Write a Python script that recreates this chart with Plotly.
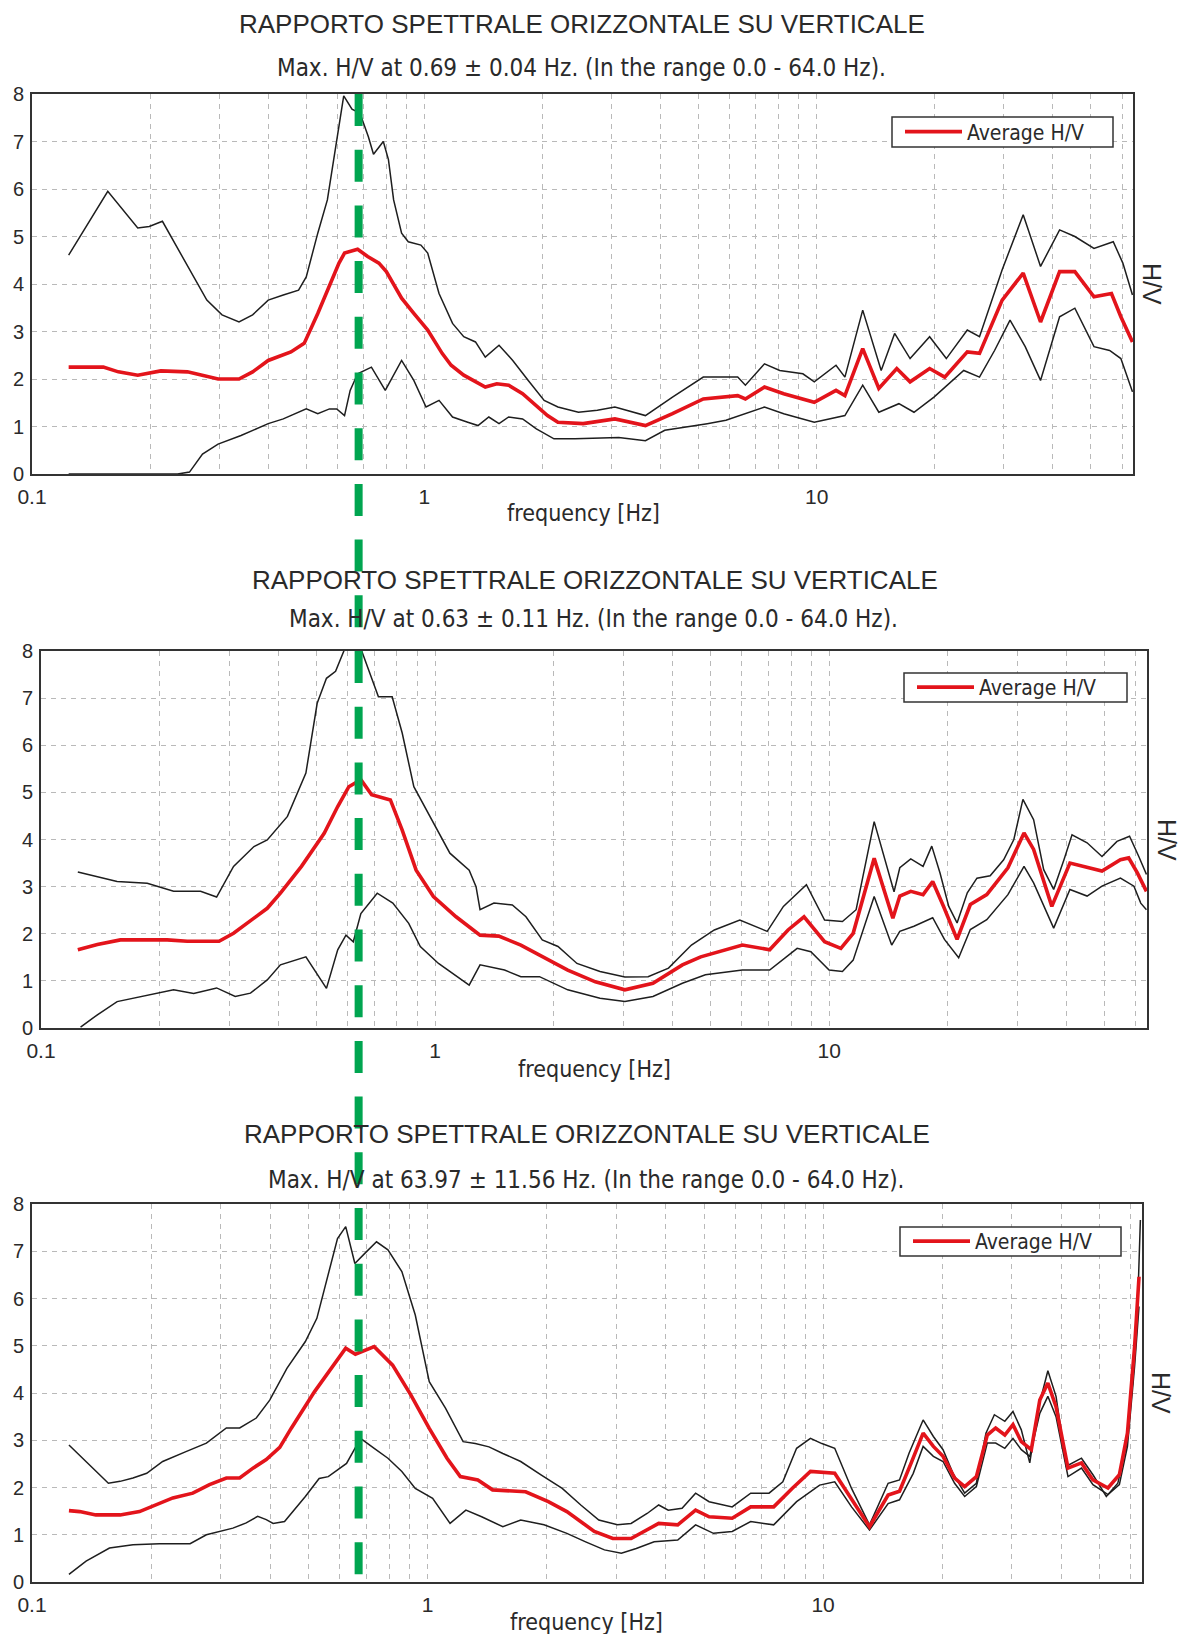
import math
import plotly.graph_objects as go

W, H = 1181, 1634

# ---------------- data ----------------
TITLE = "RAPPORTO SPETTRALE ORIZZONTALE SU VERTICALE"
PEAK_F = [0.69, 0.63, 63.97]
PEAK_ERR = [0.04, 0.11, 11.56]
RANGE_LO, RANGE_HI = 0.0, 64.0
F_MARK = 0.68  # frequency of the green dashed marker (panel-1 axis)

# Panel 1
P1_AVG_F = [0.124, 0.152, 0.166, 0.186, 0.213, 0.249, 0.298, 0.337, 0.365, 0.400, 0.457, 0.494,
            0.535, 0.573, 0.606, 0.626, 0.676, 0.717, 0.766, 0.80, 0.875, 0.94, 1.02, 1.11, 1.17,
            1.26, 1.38, 1.43, 1.53, 1.64, 1.78, 1.93, 2.06, 2.19, 2.54, 3.06, 3.66, 4.29, 5.14,
            6.29, 6.58, 7.36, 8.24, 9.86, 11.2, 11.8, 13.1, 14.4, 16.0, 17.3, 19.4, 21.2, 24.2,
            26.0, 29.7, 33.6, 37.2, 41.6, 45.5, 50.9, 56.4, 59.6, 63.8]
P1_AVG_V = [2.25, 2.25, 2.15, 2.08, 2.17, 2.15, 2.0, 2.0, 2.15, 2.39, 2.57, 2.75,
            3.38, 3.94, 4.44, 4.65, 4.73, 4.58, 4.44, 4.26, 3.7, 3.38, 3.03, 2.54, 2.29,
            2.08, 1.9, 1.83, 1.9, 1.87, 1.69, 1.44, 1.23, 1.09, 1.06, 1.16, 1.02, 1.27, 1.58,
            1.65, 1.58, 1.83, 1.69, 1.51, 1.76, 1.65, 2.64, 1.8, 2.22, 1.94, 2.22, 2.04, 2.57,
            2.54, 3.66, 4.23, 3.2, 4.26, 4.26, 3.73, 3.8, 3.31, 2.78]
P1_UP_F = [0.124, 0.156, 0.186, 0.199, 0.215, 0.255, 0.279, 0.305, 0.337, 0.365, 0.400, 0.437,
           0.478, 0.50, 0.535, 0.566, 0.598, 0.623, 0.654, 0.685, 0.72, 0.742, 0.786, 0.81,
           0.835, 0.875, 0.91, 0.98, 1.02, 1.09, 1.18, 1.26, 1.35, 1.43, 1.55, 1.68, 1.84,
           2.02, 2.19, 2.47, 2.76, 3.06, 3.66, 4.29, 5.14, 6.29, 6.58, 7.36, 8.05, 9.22, 9.86,
           11.2, 11.8, 13.1, 14.6, 15.8, 17.3, 19.4, 21.4, 24.2, 26.0, 29.7, 33.6, 37.2, 41.6,
           45.5, 50.9, 57.0, 60.3, 63.8]
P1_UP_V = [4.61, 5.95, 5.18, 5.21, 5.32, 4.23, 3.66, 3.35, 3.2, 3.35, 3.66, 3.77,
           3.87, 4.15, 5.07, 5.77, 7.04, 7.96, 7.68, 7.6, 7.1, 6.73, 7.0, 6.62,
           5.77, 5.07, 4.89, 4.82, 4.65, 3.8, 3.17, 2.89, 2.78, 2.46, 2.71, 2.39, 1.97,
           1.55, 1.41, 1.30, 1.34, 1.41, 1.23, 1.62, 2.04, 2.04, 1.87, 2.32, 2.18, 2.11, 1.94,
           2.29, 2.04, 3.45, 2.18, 2.96, 2.43, 2.89, 2.43, 3.03, 2.89, 4.3, 5.46, 4.37, 5.14,
           5.0, 4.75, 4.89, 4.44, 3.77]
P1_LO_F = [0.124, 0.235, 0.252, 0.272, 0.298, 0.341, 0.400, 0.437, 0.500, 0.535, 0.573, 0.598,
           0.626, 0.647, 0.676, 0.733, 0.795, 0.875, 0.94, 1.01, 1.09, 1.18, 1.29, 1.37, 1.46,
           1.55, 1.64, 1.78, 1.93, 2.14, 2.42, 3.13, 3.66, 4.1, 5.26, 5.87, 7.36, 8.24, 9.86,
           11.8, 13.1, 14.4, 16.2, 17.7, 19.9, 23.7, 26.0, 28.4, 31.1, 34.0, 37.2, 41.6, 45.5,
           50.9, 55.8, 59.6, 63.8]
P1_LO_V = [0.0, 0.0, 0.04, 0.42, 0.63, 0.81, 1.06, 1.16, 1.37, 1.27, 1.37, 1.37,
           1.23, 1.76, 2.11, 2.25, 1.76, 2.39, 1.97, 1.41, 1.55, 1.2, 1.09, 1.02, 1.2,
           1.06, 1.2, 1.16, 0.95, 0.74, 0.74, 0.77, 0.70, 0.92, 1.06, 1.13, 1.41, 1.27, 1.09,
           1.23, 1.87, 1.30, 1.48, 1.30, 1.62, 2.18, 2.04, 2.6, 3.24, 2.68, 1.97, 3.31, 3.49,
           2.68, 2.6, 2.43, 1.73]

# Panel 2
P2_AVG_F = [0.124, 0.139, 0.159, 0.209, 0.235, 0.283, 0.308, 0.347, 0.375, 0.405, 0.458, 0.523,
            0.566, 0.604, 0.648, 0.690, 0.770, 0.825, 0.895, 0.99, 1.13, 1.30, 1.45, 1.65, 1.84,
            2.17, 2.55, 3.03, 3.57, 4.24, 4.72, 6.02, 7.06, 7.86, 8.63, 9.73, 10.7, 11.5, 13.0,
            14.5, 15.1, 16.1, 17.3, 18.3, 19.5, 21.1, 22.8, 25.1, 28.4, 31.2, 33.0, 36.7, 40.8,
            45.1, 49.2, 54.8, 57.5, 60.5, 63.8]
P2_AVG_V = [1.66, 1.77, 1.87, 1.87, 1.84, 1.84, 2.01, 2.33, 2.54, 2.86, 3.43, 4.13,
            4.70, 5.12, 5.27, 4.95, 4.84, 4.2, 3.35, 2.79, 2.36, 1.97, 1.95, 1.76, 1.55,
            1.23, 0.98, 0.81, 0.95, 1.34, 1.51, 1.76, 1.66, 2.08, 2.36, 1.83, 1.69, 2.01, 3.6,
            2.33, 2.80, 2.90, 2.83, 3.11, 2.58, 1.88, 2.62, 2.83, 3.40, 4.14, 3.79, 2.58, 3.50,
            3.40, 3.33, 3.57, 3.61, 3.29, 2.90]
P2_UP_F = [0.124, 0.156, 0.186, 0.217, 0.254, 0.279, 0.308, 0.347, 0.375, 0.405, 0.422, 0.470,
           0.502, 0.530, 0.559, 0.590, 0.620, 0.648, 0.684, 0.718, 0.778, 0.825, 0.883, 0.969,
           1.09, 1.22, 1.27, 1.30, 1.41, 1.57, 1.70, 1.87, 2.05, 2.29, 2.62, 3.03, 3.47, 3.91,
           4.47, 5.11, 5.93, 6.96, 7.65, 8.75, 9.73, 10.8, 11.7, 13.0, 14.6, 15.1, 16.1, 17.3,
           18.2, 19.1, 20.1, 21.1, 22.4, 23.7, 25.6, 27.7, 29.4, 31.0, 33.0, 35.0, 37.1, 39.4,
           41.3, 45.1, 49.2, 53.7, 57.8, 61.0, 63.8]
P2_UP_V = [3.31, 3.11, 3.07, 2.9, 2.9, 2.78, 3.43, 3.85, 3.99, 4.31, 4.49, 5.41,
           6.89, 7.42, 7.57, 8.05, 8.4, 8.05, 7.53, 7.03, 7.03, 6.26, 5.12, 4.49,
           3.71, 3.35, 3.0, 2.51, 2.65, 2.61, 2.36, 1.87, 1.73, 1.37, 1.20, 1.08, 1.09, 1.27,
           1.76, 2.08, 2.29, 2.05, 2.58, 3.04, 2.29, 2.26, 2.51, 4.38, 2.89, 3.40, 3.59, 3.43,
           3.86, 3.29, 2.58, 2.23, 2.87, 3.18, 3.23, 3.57, 4.0, 4.85, 4.42, 3.36, 2.94, 3.57,
           4.1, 3.93, 3.64, 3.96, 4.07, 3.64, 3.26]
P2_LO_F = [0.126, 0.139, 0.156, 0.179, 0.217, 0.244, 0.279, 0.311, 0.340, 0.375, 0.405, 0.470,
           0.530, 0.566, 0.594, 0.620, 0.648, 0.713, 0.781, 0.857, 0.917, 1.02, 1.22, 1.30,
           1.50, 1.65, 1.84, 2.17, 2.62, 3.03, 3.57, 4.24, 4.85, 6.02, 7.06, 8.29, 8.98, 9.99,
           10.8, 11.5, 13.0, 14.4, 15.1, 16.4, 18.3, 19.6, 21.3, 22.8, 25.1, 28.4, 31.2, 33.0,
           37.1, 40.8, 45.1, 49.2, 54.8, 59.3, 61.7, 63.8]
P2_LO_V = [0.02, 0.28, 0.56, 0.67, 0.81, 0.73, 0.85, 0.67, 0.74, 1.02, 1.34, 1.51,
           0.84, 1.66, 1.97, 1.83, 2.43, 2.86, 2.65, 2.22, 1.73, 1.37, 0.91, 1.34,
           1.23, 1.09, 1.09, 0.81, 0.63, 0.56, 0.67, 0.95, 1.13, 1.23, 1.23, 1.69, 1.62, 1.23,
           1.2, 1.44, 2.79, 1.76, 2.05, 2.16, 2.34, 1.88, 1.49, 2.09, 2.30, 2.83, 3.43, 3.08,
           2.12, 2.94, 2.80, 3.01, 3.18, 3.01, 2.65, 2.51]

# Panel 3
P3_AVG_F = [0.124, 0.132, 0.145, 0.167, 0.187, 0.206, 0.227, 0.255, 0.281, 0.310, 0.335, 0.362,
            0.391, 0.423, 0.452, 0.518, 0.578, 0.621, 0.657, 0.733, 0.816, 0.907, 1.01, 1.12,
            1.21, 1.34, 1.46, 1.77, 2.02, 2.25, 2.64, 2.94, 3.27, 3.63, 3.84, 4.29, 4.76, 5.15,
            5.89, 6.56, 7.50, 8.35, 9.29, 10.7, 11.8, 13.1, 14.6, 15.6, 16.7, 17.9, 19.0, 20.1,
            21.5, 22.8, 24.4, 26.0, 27.3, 28.8, 30.2, 31.7, 33.6, 35.3, 37.0, 38.8, 41.6, 45.0,
            48.1, 52.5, 56.1, 58.8, 61.3, 62.9]
P3_AVG_V = [1.51, 1.49, 1.42, 1.42, 1.49, 1.63, 1.78, 1.88, 2.06, 2.20, 2.20, 2.41,
            2.59, 2.85, 3.25, 4.03, 4.59, 4.95, 4.82, 4.98, 4.59, 3.96, 3.25, 2.62,
            2.23, 2.16, 1.95, 1.91, 1.70, 1.49, 1.07, 0.92, 0.92, 1.14, 1.24, 1.21, 1.52, 1.38,
            1.35, 1.59, 1.59, 1.98, 2.34, 2.30, 1.74, 1.17, 1.84, 1.92, 2.52, 3.15, 2.87, 2.66,
            2.20, 2.02, 2.23, 3.11, 3.26, 3.11, 3.33, 2.97, 2.80, 3.85, 4.21, 3.71, 2.41, 2.52,
            2.16, 1.99, 2.27, 3.15, 4.98, 6.46]
P3_UP_F = [0.124, 0.156, 0.167, 0.180, 0.195, 0.214, 0.245, 0.276, 0.310, 0.335, 0.369, 0.399,
           0.441, 0.491, 0.525, 0.561, 0.592, 0.621, 0.655, 0.695, 0.743, 0.794, 0.861, 0.931,
           1.01, 1.11, 1.23, 1.32, 1.43, 1.55, 1.72, 1.94, 2.19, 2.44, 2.71, 3.02, 3.27, 3.59,
           3.84, 4.06, 4.40, 4.76, 5.15, 5.89, 6.56, 7.30, 7.91, 8.57, 9.29, 9.93, 10.7, 11.8,
           13.1, 14.6, 15.6, 16.5, 17.9, 19.0, 20.1, 21.3, 22.8, 24.4, 25.8, 27.1, 28.8, 30.2,
           31.7, 33.3, 34.9, 37.0, 38.8, 41.2, 45.0, 48.1, 52.0, 55.6, 58.4, 60.7, 62.5, 63.4]
P3_UP_V = [2.90, 2.09, 2.13, 2.20, 2.30, 2.55, 2.76, 2.94, 3.26, 3.26, 3.47, 3.85,
           4.52, 5.09, 5.58, 6.50, 7.27, 7.52, 6.74, 6.96, 7.20, 7.03, 6.57, 5.65,
           4.24, 3.68, 2.97, 2.93, 2.86, 2.72, 2.55, 2.26, 1.98, 1.63, 1.31, 1.21, 1.24, 1.45,
           1.63, 1.52, 1.56, 1.88, 1.70, 1.59, 1.88, 1.88, 2.12, 2.83, 3.04, 2.93, 2.83, 1.98,
           1.21, 2.09, 2.16, 2.73, 3.43, 3.08, 2.80, 2.30, 1.88, 2.09, 3.15, 3.54, 3.40, 3.61,
           3.22, 2.52, 3.64, 4.47, 3.93, 2.45, 2.62, 2.27, 1.81, 2.09, 2.87, 4.28, 6.04, 7.66]
P3_LO_F = [0.124, 0.137, 0.157, 0.180, 0.210, 0.251, 0.276, 0.322, 0.348, 0.372, 0.391, 0.407,
           0.435, 0.491, 0.532, 0.561, 0.624, 0.677, 0.733, 0.794, 0.861, 0.931, 1.03, 1.14,
           1.25, 1.37, 1.55, 1.72, 1.97, 2.25, 2.51, 2.80, 3.09, 3.37, 3.74, 4.29, 4.76, 5.28,
           5.89, 6.56, 7.50, 8.57, 9.80, 10.7, 11.8, 13.1, 14.6, 15.6, 16.9, 17.9, 19.0, 20.1,
           21.5, 22.8, 24.4, 26.0, 27.3, 28.8, 30.2, 31.7, 33.3, 35.3, 37.0, 38.8, 41.6, 45.0,
           48.1, 52.5, 56.1, 58.8, 61.3, 62.9]
P3_LO_V = [0.16, 0.44, 0.72, 0.79, 0.81, 0.81, 1.00, 1.14, 1.25, 1.39, 1.32, 1.24,
           1.28, 1.81, 2.19, 2.23, 2.51, 3.04, 2.83, 2.62, 2.34, 1.98, 1.77, 1.24,
           1.52, 1.38, 1.17, 1.31, 1.21, 1.03, 0.85, 0.68, 0.61, 0.71, 0.85, 0.89, 1.21, 1.03,
           1.07, 1.28, 1.21, 1.70, 2.05, 2.12, 1.59, 1.10, 1.66, 1.74, 2.30, 2.87, 2.66, 2.55,
           2.09, 1.81, 2.02, 2.94, 2.94, 2.83, 3.04, 2.80, 2.66, 3.57, 3.93, 3.50, 2.23, 2.41,
           2.06, 1.85, 2.06, 2.87, 4.56, 5.83]

X_TICKS = [0.1, 0.2, 0.3, 0.4, 0.5, 0.6, 0.7, 0.8, 0.9,
           1, 2, 3, 4, 5, 6, 7, 8, 9,
           10, 20, 30, 40, 50, 60]
X_LABELED = {0.1: "0.1", 1: "1", 10: "10"}
Y_TICKS = [0, 1, 2, 3, 4, 5, 6, 7, 8]
X_RANGE = [0.1, 64.0]
Y_RANGE = [0, 8]

PANELS = [
    (P1_AVG_F, P1_AVG_V, P1_UP_F, P1_UP_V, P1_LO_F, P1_LO_V),
    (P2_AVG_F, P2_AVG_V, P2_UP_F, P2_UP_V, P2_LO_F, P2_LO_V),
    (P3_AVG_F, P3_AVG_V, P3_UP_F, P3_UP_V, P3_LO_F, P3_LO_V),
]

# ---------------- layout geometry (pixels) ----------------
BOX = [(32, 1133, 94, 474), (41, 1147, 651, 1028), (32, 1142, 1204, 1582)]
TITLE_XY = [(582, 24), (595, 580), (587, 1134)]
SUB_XY = [(581, 68), (593, 619), (586, 1180)]
XLAB_XY = [(583, 513), (594, 1069), (586, 1622)]
HV_XY = [(1152, 284), (1167, 840), (1161, 1393)]
LEG_BOX = [(892, 1113, 117, 147), (904, 1127, 673, 702), (900, 1121, 1227, 1256)]

RED = "#e3141b"
BLACK = "#1e1e1e"
GRID = "#b9b9b9"
FRAME = "#333333"
TXT = "#2a2a2a"
FONT = "Liberation Sans, Arial, sans-serif"
NARROW = "Liberation Sans Narrow, Arial Narrow, DejaVu Sans Condensed, Liberation Sans, sans-serif"


def fx(p):
    return p / W


def fy(p):
    return 1 - p / H


fig = go.Figure()
layout = dict(
    width=W, height=H, margin=dict(l=0, r=0, t=0, b=0),
    paper_bgcolor="white", plot_bgcolor="white", template="none",
    showlegend=True, annotations=[], shapes=[],
)

for i, (avg_f, avg_v, up_f, up_v, lo_f, lo_v) in enumerate(PANELS, start=1):
    sfx = "" if i == 1 else str(i)
    xa, ya, lg = "x" + sfx, "y" + sfx, "legend" + sfx
    for f, v in ((lo_f, lo_v), (up_f, up_v)):
        fig.add_trace(go.Scatter(x=f, y=v, mode="lines", xaxis=xa, yaxis=ya,
                                 line=dict(color=BLACK, width=1.5), showlegend=False,
                                 hoverinfo="skip"))
    fig.add_trace(go.Scatter(x=avg_f, y=avg_v, mode="lines", name="Average H/V",
                             xaxis=xa, yaxis=ya, legend=lg,
                             line=dict(color=RED, width=3.6)))

    l, r, t, b = BOX[i - 1]
    common = dict(showgrid=True, gridcolor=GRID, gridwidth=1, griddash="5px,5px",
                  showline=True, mirror=True, linecolor=FRAME, linewidth=2,
                  zeroline=False, ticks="", automargin=False)
    layout["xaxis" + sfx] = dict(
        type="log", range=[math.log10(X_RANGE[0]), math.log10(X_RANGE[1])],
        domain=[fx(l), fx(r)], anchor=ya, tickmode="array", tickvals=X_TICKS,
        ticktext=[X_LABELED.get(v, "") for v in X_TICKS], ticklabelstandoff=3,
        tickfont=dict(family=FONT, size=21, color=TXT), **common)
    layout["yaxis" + sfx] = dict(
        range=Y_RANGE, domain=[fy(b), fy(t)], anchor=xa, tickmode="array",
        tickvals=Y_TICKS, ticktext=[str(v) for v in Y_TICKS], ticklabelstandoff=2,
        tickfont=dict(family=FONT, size=20, color=TXT), **common)

    # legend frame (white box) and legend entry inside it
    bl, br, bt, bb = LEG_BOX[i - 1]
    layout["shapes"].append(dict(
        type="rect", xref="paper", yref="paper", x0=fx(bl), x1=fx(br),
        y0=fy(bb), y1=fy(bt), fillcolor="white", layer="above",
        line=dict(color=FRAME, width=1.5)))
    layout[lg] = dict(x=fx(bl + 8), xanchor="left", y=fy((bt + bb) / 2), yanchor="middle",
                      bgcolor="rgba(0,0,0,0)", borderwidth=0,
                      font=dict(family=NARROW, size=21, color=TXT),
                      itemwidth=57, tracegroupgap=0)

    sub = (f"Max. H/V at {PEAK_F[i-1]:.2f} \u00b1 {PEAK_ERR[i-1]:.2f} Hz. "
           f"(In the range {RANGE_LO:.1f} - {RANGE_HI:.1f} Hz).")
    texts = [
        (TITLE, TITLE_XY[i - 1], dict(family=FONT, size=26, color=TXT), 0),
        (sub, SUB_XY[i - 1], dict(family=NARROW, size=24, color=TXT), 0),
        ("frequency [Hz]", XLAB_XY[i - 1], dict(family=NARROW, size=23, color=TXT), 0),
        ("H/V", HV_XY[i - 1], dict(family=FONT, size=25, color=TXT), 90),
    ]
    for txt, (px, py), font, ang in texts:
        layout["annotations"].append(dict(
            text=txt, x=fx(px), y=fy(py), xref="paper", yref="paper",
            xanchor="center", yanchor="middle", showarrow=False, font=font,
            textangle=ang))

# green dashed marker spanning the three panels
layout["shapes"].append(dict(
    type="line", xref="x", yref="paper", x0=F_MARK, x1=F_MARK,
    y0=fy(BOX[0][2]), y1=fy(BOX[2][3]), layer="above",
    line=dict(color="#00a550", width=8, dash="32px,23.7px")))

fig.update_layout(**layout)
fig.write_html("out.html", include_plotlyjs=True,
               config={"displayModeBar": False},
               post_script="document.body.style.margin='0';document.body.style.overflow='hidden';")
